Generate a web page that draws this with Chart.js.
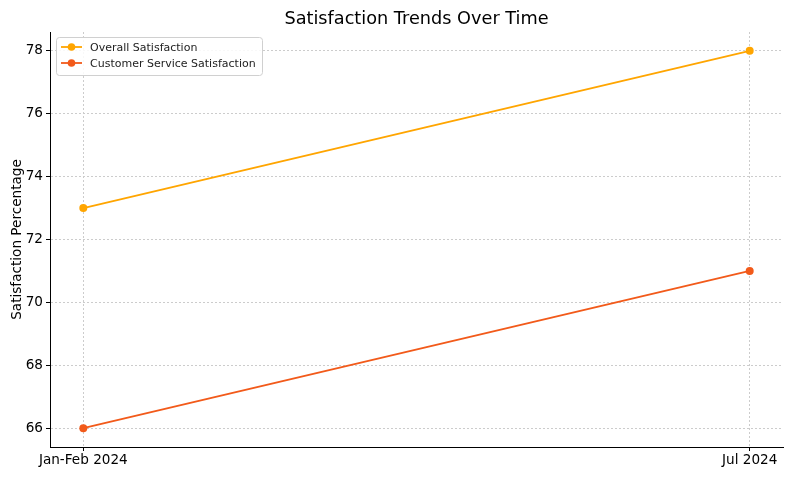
<!DOCTYPE html>
<html>
<head>
<meta charset="utf-8">
<script src="https://cdn.jsdelivr.net/npm/chart.js@4"></script>
<style>
  html, body { margin: 0; padding: 0; background: #fff; }
  #wrap { width: 795px; height: 477px; }
</style>
</head>
<body>
<div id="wrap"><canvas id="trendChart" width="795" height="477"></canvas></div>
<script>
// Chart data
const periods = ['Jan-Feb 2024', 'Jul 2024'];
const overallSatisfaction = [73, 78];
const serviceSatisfaction = [66, 71];
const yTicks = [66, 68, 70, 72, 74, 76, 78];
const chartTitle = 'Satisfaction Trends Over Time';

const FONT = "'DejaVu Sans', sans-serif";
const orange = '#ffa500';
const redOrange = '#f25a1a';

// title centred over the plot area (matplotlib style) rather than the canvas
const axesTitle = {
    id: 'axesTitle',
    afterDraw(chart) {
        const ctx = chart.ctx;
        const area = chart.chartArea;
        ctx.save();
        ctx.font = '17.7px ' + FONT;
        ctx.fillStyle = '#000';
        ctx.textAlign = 'center';
        ctx.textBaseline = 'middle';
        ctx.fillText(chartTitle, (area.left + area.right) / 2, 19);
        ctx.restore();
    }
};

// legend drawn inside the plot, upper left like the original
const insideLegend = {
    id: 'insideLegend',
    afterDraw(chart) {
        const ctx = chart.ctx;
        const area = chart.chartArea;
        const x = area.left + 6, y = area.top + 5, w = 206, h = 38;
        ctx.save();
        ctx.fillStyle = 'rgba(255,255,255,0.85)';
        ctx.strokeStyle = '#d0d0d0';
        ctx.lineWidth = 1;
        ctx.beginPath();
        ctx.roundRect(x + 0.5, y + 0.5, w, h, 3);
        ctx.fill();
        ctx.stroke();
        ctx.font = '11px ' + FONT;
        ctx.textBaseline = 'middle';
        chart.data.datasets.forEach((ds, i) => {
            const ly = y + 10 + i * 16;
            ctx.strokeStyle = ds.borderColor;
            ctx.lineWidth = 1.8;
            ctx.beginPath();
            ctx.moveTo(x + 5, ly);
            ctx.lineTo(x + 26, ly);
            ctx.stroke();
            ctx.fillStyle = ds.borderColor;
            ctx.beginPath();
            ctx.arc(x + 15.5, ly, 3.8, 0, Math.PI * 2);
            ctx.fill();
            ctx.fillStyle = '#222';
            ctx.fillText(ds.label, x + 34, ly + 1);
        });
        ctx.restore();
    }
};

const ctx = document.getElementById('trendChart').getContext('2d');

new Chart(ctx, {
    type: 'line',
    data: {
        datasets: [{
            label: 'Overall Satisfaction',
            data: overallSatisfaction.map((v, i) => ({ x: i, y: v })),
            borderColor: orange,
            backgroundColor: orange,
            borderWidth: 1.9,
            pointRadius: 4,
            pointHoverRadius: 4,
            pointBorderWidth: 0,
            tension: 0
        }, {
            label: 'Customer Service Satisfaction',
            data: serviceSatisfaction.map((v, i) => ({ x: i, y: v })),
            borderColor: redOrange,
            backgroundColor: redOrange,
            borderWidth: 1.9,
            pointRadius: 4,
            pointHoverRadius: 4,
            pointBorderWidth: 0,
            tension: 0
        }]
    },
    options: {
        responsive: false,
        animation: false,
        layout: {
            padding: { left: 0, right: 12, top: 32, bottom: 0 }
        },
        plugins: {
            legend: { display: false },
            tooltip: { enabled: false },
            title: { display: false }
        },
        scales: {
            x: {
                type: 'linear',
                min: -0.05,
                max: 1.05,
                afterBuildTicks: scale => {
                    scale.ticks = periods.map((p, i) => ({ value: i }));
                },
                afterFit: scale => { scale.height = 30; },
                ticks: {
                    callback: value => periods[value],
                    color: '#000',
                    font: { family: FONT, size: 13.6 },
                    padding: 1,
                    maxRotation: 0,
                    autoSkip: false
                },
                grid: {
                    color: '#cccccc',
                    tickColor: '#000',
                    tickLength: 4,
                    tickBorderDash: []
                },
                border: { display: true, color: '#000', width: 1, dash: [2, 2] }
            },
            y: {
                min: 65.4,
                max: 78.6,
                afterBuildTicks: scale => {
                    scale.ticks = yTicks.map(v => ({ value: v }));
                },
                afterFit: scale => { scale.width = 50; },
                ticks: {
                    color: '#000',
                    font: { family: FONT, size: 13.6 },
                    padding: 3
                },
                title: {
                    display: true,
                    text: 'Satisfaction Percentage',
                    color: '#000',
                    font: { family: FONT, size: 13.6 },
                    padding: { top: 9, bottom: 2 }
                },
                grid: {
                    color: '#cccccc',
                    tickColor: '#000',
                    tickLength: 4,
                    tickBorderDash: []
                },
                border: { display: true, color: '#000', width: 1, dash: [2, 2] }
            }
        }
    },
    plugins: [insideLegend, axesTitle]
});
</script>
</body>
</html>
